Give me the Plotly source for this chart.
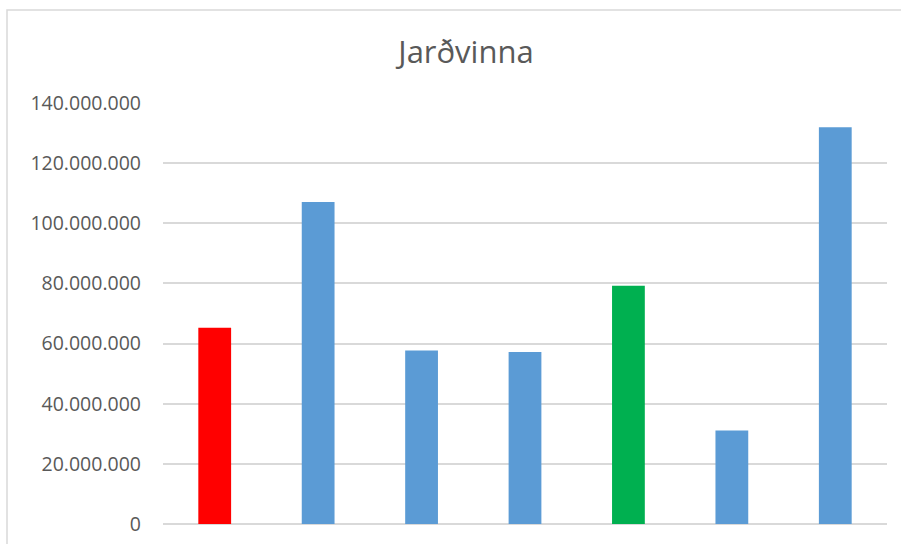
import plotly.graph_objects as go

categories = ["1", "2", "3", "4", "5", "6", "7"]
values = [65300000, 107100000, 57700000, 57200000, 79200000, 31100000, 131900000]
colors = ["#FF0000", "#5B9BD5", "#5B9BD5", "#5B9BD5", "#00B050", "#5B9BD5", "#5B9BD5"]
y_ticks = [0, 20000000, 40000000, 60000000, 80000000, 100000000, 120000000, 140000000]

fig = go.Figure(go.Bar(x=categories, y=values, marker_color=colors,
                       marker_line_width=0, width=0.317))

W, H = 901, 544
ml, mr, mt, mb = 163, 14, 103, 20
pw, ph = W - ml - mr, H - mt - mb

def px_to_paper_x(px):
    return (px - ml) / pw

def px_to_paper_y(py):
    return (H - mb - py) / ph

fig.update_layout(
    width=W, height=H,
    margin=dict(l=ml, r=mr, t=mt, b=mb, pad=0, autoexpand=False),
    paper_bgcolor="white", plot_bgcolor="white",
    separators=",.",
    showlegend=False,
    title=dict(text="Jarðvinna", x=px_to_paper_x(466), xref="paper", xanchor="center",
               y=1 - 52 / H, yanchor="middle",
               font=dict(family="Open Sans", size=31, color="#595959")),
    font=dict(family="Open Sans", color="#595959"),
    xaxis=dict(showticklabels=False, showgrid=False, zeroline=False, showline=False,
               ticks="", automargin=False),
    yaxis=dict(range=[0, 140000000], tickvals=y_ticks, tickformat=",d",
               showgrid=True, gridcolor="#D9D9D9", gridwidth=1.5,
               zeroline=True, zerolinecolor="#D9D9D9", zerolinewidth=1.5,
               showline=False, ticks="", ticklabelstandoff=21, automargin=False,
               tickfont=dict(family="Open Sans", size=19.5, color="#595959")),
    shapes=[dict(type="rect", xref="paper", yref="paper",
                 x0=px_to_paper_x(7), x1=px_to_paper_x(W + 20),
                 y0=px_to_paper_y(H + 20), y1=px_to_paper_y(10),
                 line=dict(color="#D9D9D9", width=1.5), fillcolor="rgba(0,0,0,0)",
                 layer="below")],
)

fig.write_html("out.html")
